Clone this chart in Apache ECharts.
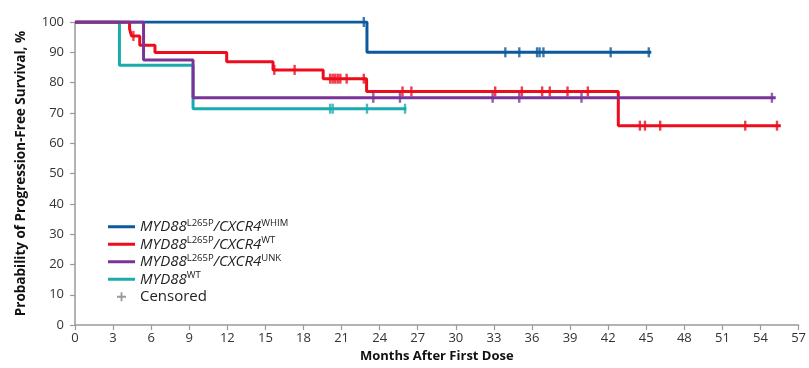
<!DOCTYPE html>
<html>
<head>
<meta charset="utf-8">
<script src="https://cdn.jsdelivr.net/npm/echarts@6/dist/echarts.min.js"></script>
<style>
  html, body { margin: 0; padding: 0; background: #fff; }
  #chart { width: 809px; height: 368px; }
</style>
</head>
<body>
<div id="chart"></div>
<script>
// Kaplan–Meier step data: event times (months) and survival (%) after each step
var whimTimes = [0, 23.0];
var whimSurv = [100, 90];
var whimEnd = 45.4;
var whimCensor = [22.75, 33.9, 35.0, 36.4, 36.6, 36.9, 42.2, 45.2];

var wtTimes = [0, 4.3, 4.45, 5.1, 6.3, 11.95, 15.6, 19.55, 22.97, 42.8];
var wtSurv = [100, 97.7, 95.4, 92.3, 89.9, 86.9, 84.2, 81.3, 77.1, 65.8];
var wtEnd = 55.6;
var wtCensor = [4.6, 15.7, 17.3, 20.1, 20.3, 20.5, 20.7, 20.9, 21.4, 22.75,
                25.8, 26.5, 33.1, 35.2, 36.8, 37.4, 38.8, 40.4,
                44.5, 44.9, 46.1, 52.8, 55.3];

var unkTimes = [0, 5.4, 9.3];
var unkSurv = [100, 87.5, 75];
var unkEnd = 55.2;
var unkCensor = [23.5, 25.6, 32.9, 35.0, 39.9, 54.9];

var myd88wtTimes = [0, 3.5, 9.3];
var myd88wtSurv = [100, 85.7, 71.4];
var myd88wtEnd = 26.1;
var myd88wtCensor = [20.1, 20.3, 23.0, 26.0];

var xTicks = [0, 3, 6, 9, 12, 15, 18, 21, 24, 27, 30, 33, 36, 39, 42, 45, 48, 51, 54, 57];

var COLORS = {
  whim: '#0c5a9b',
  wt: '#ec0c1c',
  unk: '#7a3497',
  myd: '#1aabb0',
  cens: '#808080'
};

function stepPoints(times, surv, end) {
  var pts = times.map(function (t, i) { return [t, surv[i]]; });
  pts.push([end, surv[surv.length - 1]]);
  return pts;
}
function survAt(times, surv, t) {
  var v = surv[0];
  for (var i = 0; i < times.length; i++) { if (times[i] <= t) v = surv[i]; }
  return v;
}
function censorPoints(times, surv, cens) {
  return cens.map(function (t) { return [t, survAt(times, surv, t)]; });
}

var groups = [
  { name: 'MYD88 WT', color: COLORS.myd, t: myd88wtTimes, s: myd88wtSurv, e: myd88wtEnd, c: myd88wtCensor },
  { name: 'MYD88 L265P/CXCR4 WHIM', color: COLORS.whim, t: whimTimes, s: whimSurv, e: whimEnd, c: whimCensor },
  { name: 'MYD88 L265P/CXCR4 WT', color: COLORS.wt, t: wtTimes, s: wtSurv, e: wtEnd, c: wtCensor },
  { name: 'MYD88 L265P/CXCR4 UNK', color: COLORS.unk, t: unkTimes, s: unkSurv, e: unkEnd, c: unkCensor }
];

var series = [];
groups.forEach(function (g, i) {
  series.push({
    name: g.name,
    type: 'line',
    step: 'end',
    showSymbol: false,
    symbol: 'none',
    lineStyle: { color: g.color, width: 3 },
    itemStyle: { color: g.color },
    data: stepPoints(g.t, g.s, g.e),
    z: 2 + i,
    animation: false
  });
  series.push({
    name: g.name,
    type: 'scatter',
    symbol: 'rect',
    symbolSize: [2.4, 10],
    itemStyle: { color: g.color },
    data: censorPoints(g.t, g.s, g.c),
    z: 2 + i,
    animation: false
  });
});
series.push({
  name: 'Censored',
  type: 'scatter',
  data: [],
  itemStyle: { color: COLORS.cens }
});

var linePath = 'path://M0,0h27v3h-27z';
var plusPath = 'path://M3.6,0h1.8v3.6h3.6v1.8h-3.6v3.6h-1.8v-3.6h-3.6v-1.8h3.6z';

var legendLabels = {
  'MYD88 L265P/CXCR4 WHIM': '{g|MYD88}{s|L265P}{g|/CXCR4}{s|WHIM}',
  'MYD88 L265P/CXCR4 WT': '{g|MYD88}{s|L265P}{g|/CXCR4}{s|WT}',
  'MYD88 L265P/CXCR4 UNK': '{g|MYD88}{s|L265P}{g|/CXCR4}{s|UNK}',
  'MYD88 WT': '{g|MYD88}{s|WT}',
  'Censored': '{c|Censored}'
};

var FONT = '"Open Sans", Lato, sans-serif';

var option = {
  backgroundColor: '#fff',
  animation: false,
  grid: { left: 75, right: 10, top: 22, bottom: 42, containLabel: false },
  legend: {
    orient: 'vertical',
    left: 108,
    top: 218,
    padding: 0,
    itemWidth: 27,
    itemHeight: 9,
    itemGap: 0,
    itemTextGap: 10,
    symbolKeepAspect: true,
    selectedMode: false,
    data: [
      { name: 'MYD88 L265P/CXCR4 WHIM', icon: linePath, itemStyle: { color: COLORS.whim } },
      { name: 'MYD88 L265P/CXCR4 WT', icon: linePath, itemStyle: { color: COLORS.wt } },
      { name: 'MYD88 L265P/CXCR4 UNK', icon: linePath, itemStyle: { color: COLORS.unk } },
      { name: 'MYD88 WT', icon: linePath, itemStyle: { color: COLORS.myd } },
      { name: 'Censored', icon: plusPath, itemStyle: { color: COLORS.cens } }
    ],
    formatter: function (n) { return legendLabels[n]; },
    textStyle: {
      fontFamily: FONT,
      lineHeight: 17.5,
      height: 17.5,
      rich: {
        g: { fontFamily: FONT, fontStyle: 'italic', fontSize: 15, color: '#222', lineHeight: 17.5 },
        s: { fontFamily: FONT, fontSize: 9.5, color: '#222', verticalAlign: 'top', lineHeight: 17.5, padding: [0, 0, 6, 0] },
        c: { fontFamily: FONT, fontSize: 15, color: '#222', lineHeight: 17.5 }
      }
    }
  },
  xAxis: {
    type: 'value',
    min: 0,
    max: 57,
    interval: 3,
    name: 'Months After First Dose',
    nameLocation: 'middle',
    nameGap: 21,
    nameTextStyle: { fontFamily: FONT, fontWeight: 'bold', fontSize: 13, color: '#111', verticalAlign: 'top' },
    axisLine: { lineStyle: { color: '#9a9a9a', width: 1.5 } },
    axisTick: { show: true, length: 5, lineStyle: { color: '#9a9a9a', width: 1.2 } },
    axisLabel: {
      margin: 7, fontFamily: FONT, fontSize: 13, color: '#333',
      formatter: function (v) { return xTicks.indexOf(v) >= 0 ? String(v) : ''; }
    },
    splitLine: { show: false }
  },
  yAxis: {
    type: 'value',
    min: 0,
    max: 100,
    interval: 10,
    name: 'Probability of Progression-Free Survival, %',
    nameLocation: 'middle',
    nameGap: 47,
    nameRotate: 90,
    nameTextStyle: { fontFamily: FONT, fontWeight: 'bold', fontSize: 13.5, color: '#111' },
    axisLine: { show: true, lineStyle: { color: '#9a9a9a', width: 1.5 } },
    axisTick: { show: true, length: 5, lineStyle: { color: '#9a9a9a', width: 1.2 } },
    axisLabel: { margin: 11, fontFamily: FONT, fontSize: 13, color: '#333' },
    splitLine: { show: false }
  },
  series: series
};

var chart = echarts.init(document.getElementById('chart'), null, { renderer: 'canvas' });
chart.setOption(option);
</script>
</body>
</html>
